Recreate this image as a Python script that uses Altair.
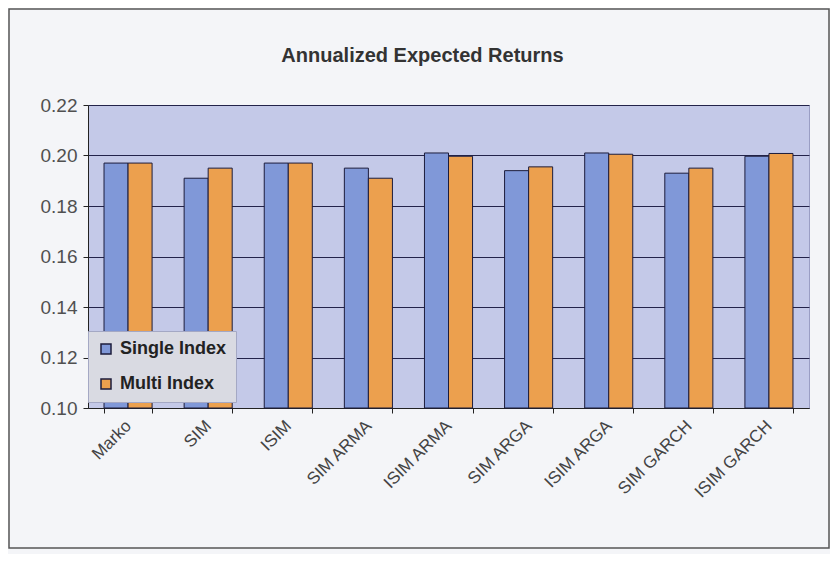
import altair as alt
import pandas as pd

categories = ["Marko", "SIM", "ISIM", "SIM ARMA", "ISIM ARMA", "SIM ARGA", "ISIM ARGA", "SIM GARCH", "ISIM GARCH"]
single_index = [0.197, 0.191, 0.197, 0.195, 0.201, 0.194, 0.201, 0.193, 0.1997]
multi_index = [0.197, 0.195, 0.197, 0.191, 0.1997, 0.1955, 0.2005, 0.195, 0.2008]
series = ["Single Index", "Multi Index"]
y_ticks = [0.10, 0.12, 0.14, 0.16, 0.18, 0.20, 0.22]
title_text = "Annualized Expected Returns"

rows = []
for c, s, m in zip(categories, single_index, multi_index):
    rows.append({"model": c, "series": "Single Index", "value": s})
    rows.append({"model": c, "series": "Multi Index", "value": m})
df = pd.DataFrame(rows)

FONT = "Liberation Sans"
W, H = 721, 303

bars = alt.Chart(df).mark_bar(stroke="#1c1c3c", strokeWidth=1, opacity=1).encode(
    x=alt.X("model:N", sort=categories,
            scale=alt.Scale(paddingInner=0.4, paddingOuter=0.2),
            axis=alt.Axis(title=None, labelAngle=-45, labelAlign="right", labelBaseline="middle",
                          labelFontSize=17, labelColor="#444444", labelFont=FONT,
                          tickBand="extent", tickColor="#222222", tickSize=5,
                          domainColor="#222222", labelPadding=10, grid=False)),
    xOffset=alt.XOffset("series:N", sort=series),
    y=alt.Y("value:Q", scale=alt.Scale(domain=[0.10, 0.22], zero=False, nice=False),
            axis=alt.Axis(title=None, values=y_ticks, format=".2f", labelFontSize=19,
                          labelColor="#505050", labelFont=FONT, tickColor="#222222",
                          tickSize=5, domainColor="#222222", grid=True,
                          gridColor="#23234a", gridOpacity=1, gridWidth=1, labelPadding=6)),
    y2=alt.datum(0.10),
    color=alt.Color("series:N", sort=series,
                    scale=alt.Scale(domain=series, range=["#8098d8", "#eca04e"]),
                    legend=alt.Legend(title=None, orient="none", legendX=0, legendY=226,
                                      direction="vertical", fillColor="#d9dae2",
                                      strokeColor="#a4a8c4", padding=9,
                                      labelFont=FONT, labelFontSize=18, labelFontWeight="bold",
                                      labelColor="#222222", symbolType="square", symbolSize=100,
                                      symbolStrokeColor="#1c1c3c", symbolStrokeWidth=1.5,
                                      rowPadding=17, labelOffset=5, labelLimit=300)),
)

frame = alt.Chart(pd.DataFrame({"a": [0]})).mark_rect(
    fill=None, stroke="#555555", strokeWidth=1.5
).encode(
    x=alt.value(-79), x2=alt.value(W + 20), y=alt.value(-96), y2=alt.value(H + 140)
)

title = alt.Chart(pd.DataFrame({"t": [title_text]})).mark_text(
    font=FONT, fontSize=20, fontWeight="bold", color="#333333", align="center", baseline="alphabetic"
).encode(
    text="t:N", x=alt.value(W / 2 - 26), y=alt.value(-43)
)

chart = alt.layer(frame, bars, title).properties(
    width=W, height=H,
    autosize=alt.AutoSizeParams(type="none"),
    padding={"left": 80, "top": 97, "right": 21, "bottom": 146},
    background="#f4f5f8",
).configure_view(fill="#c4c9e8", stroke="#9a9ec4")

chart.save("out.html", embed_options={"renderer": "svg", "actions": False})
